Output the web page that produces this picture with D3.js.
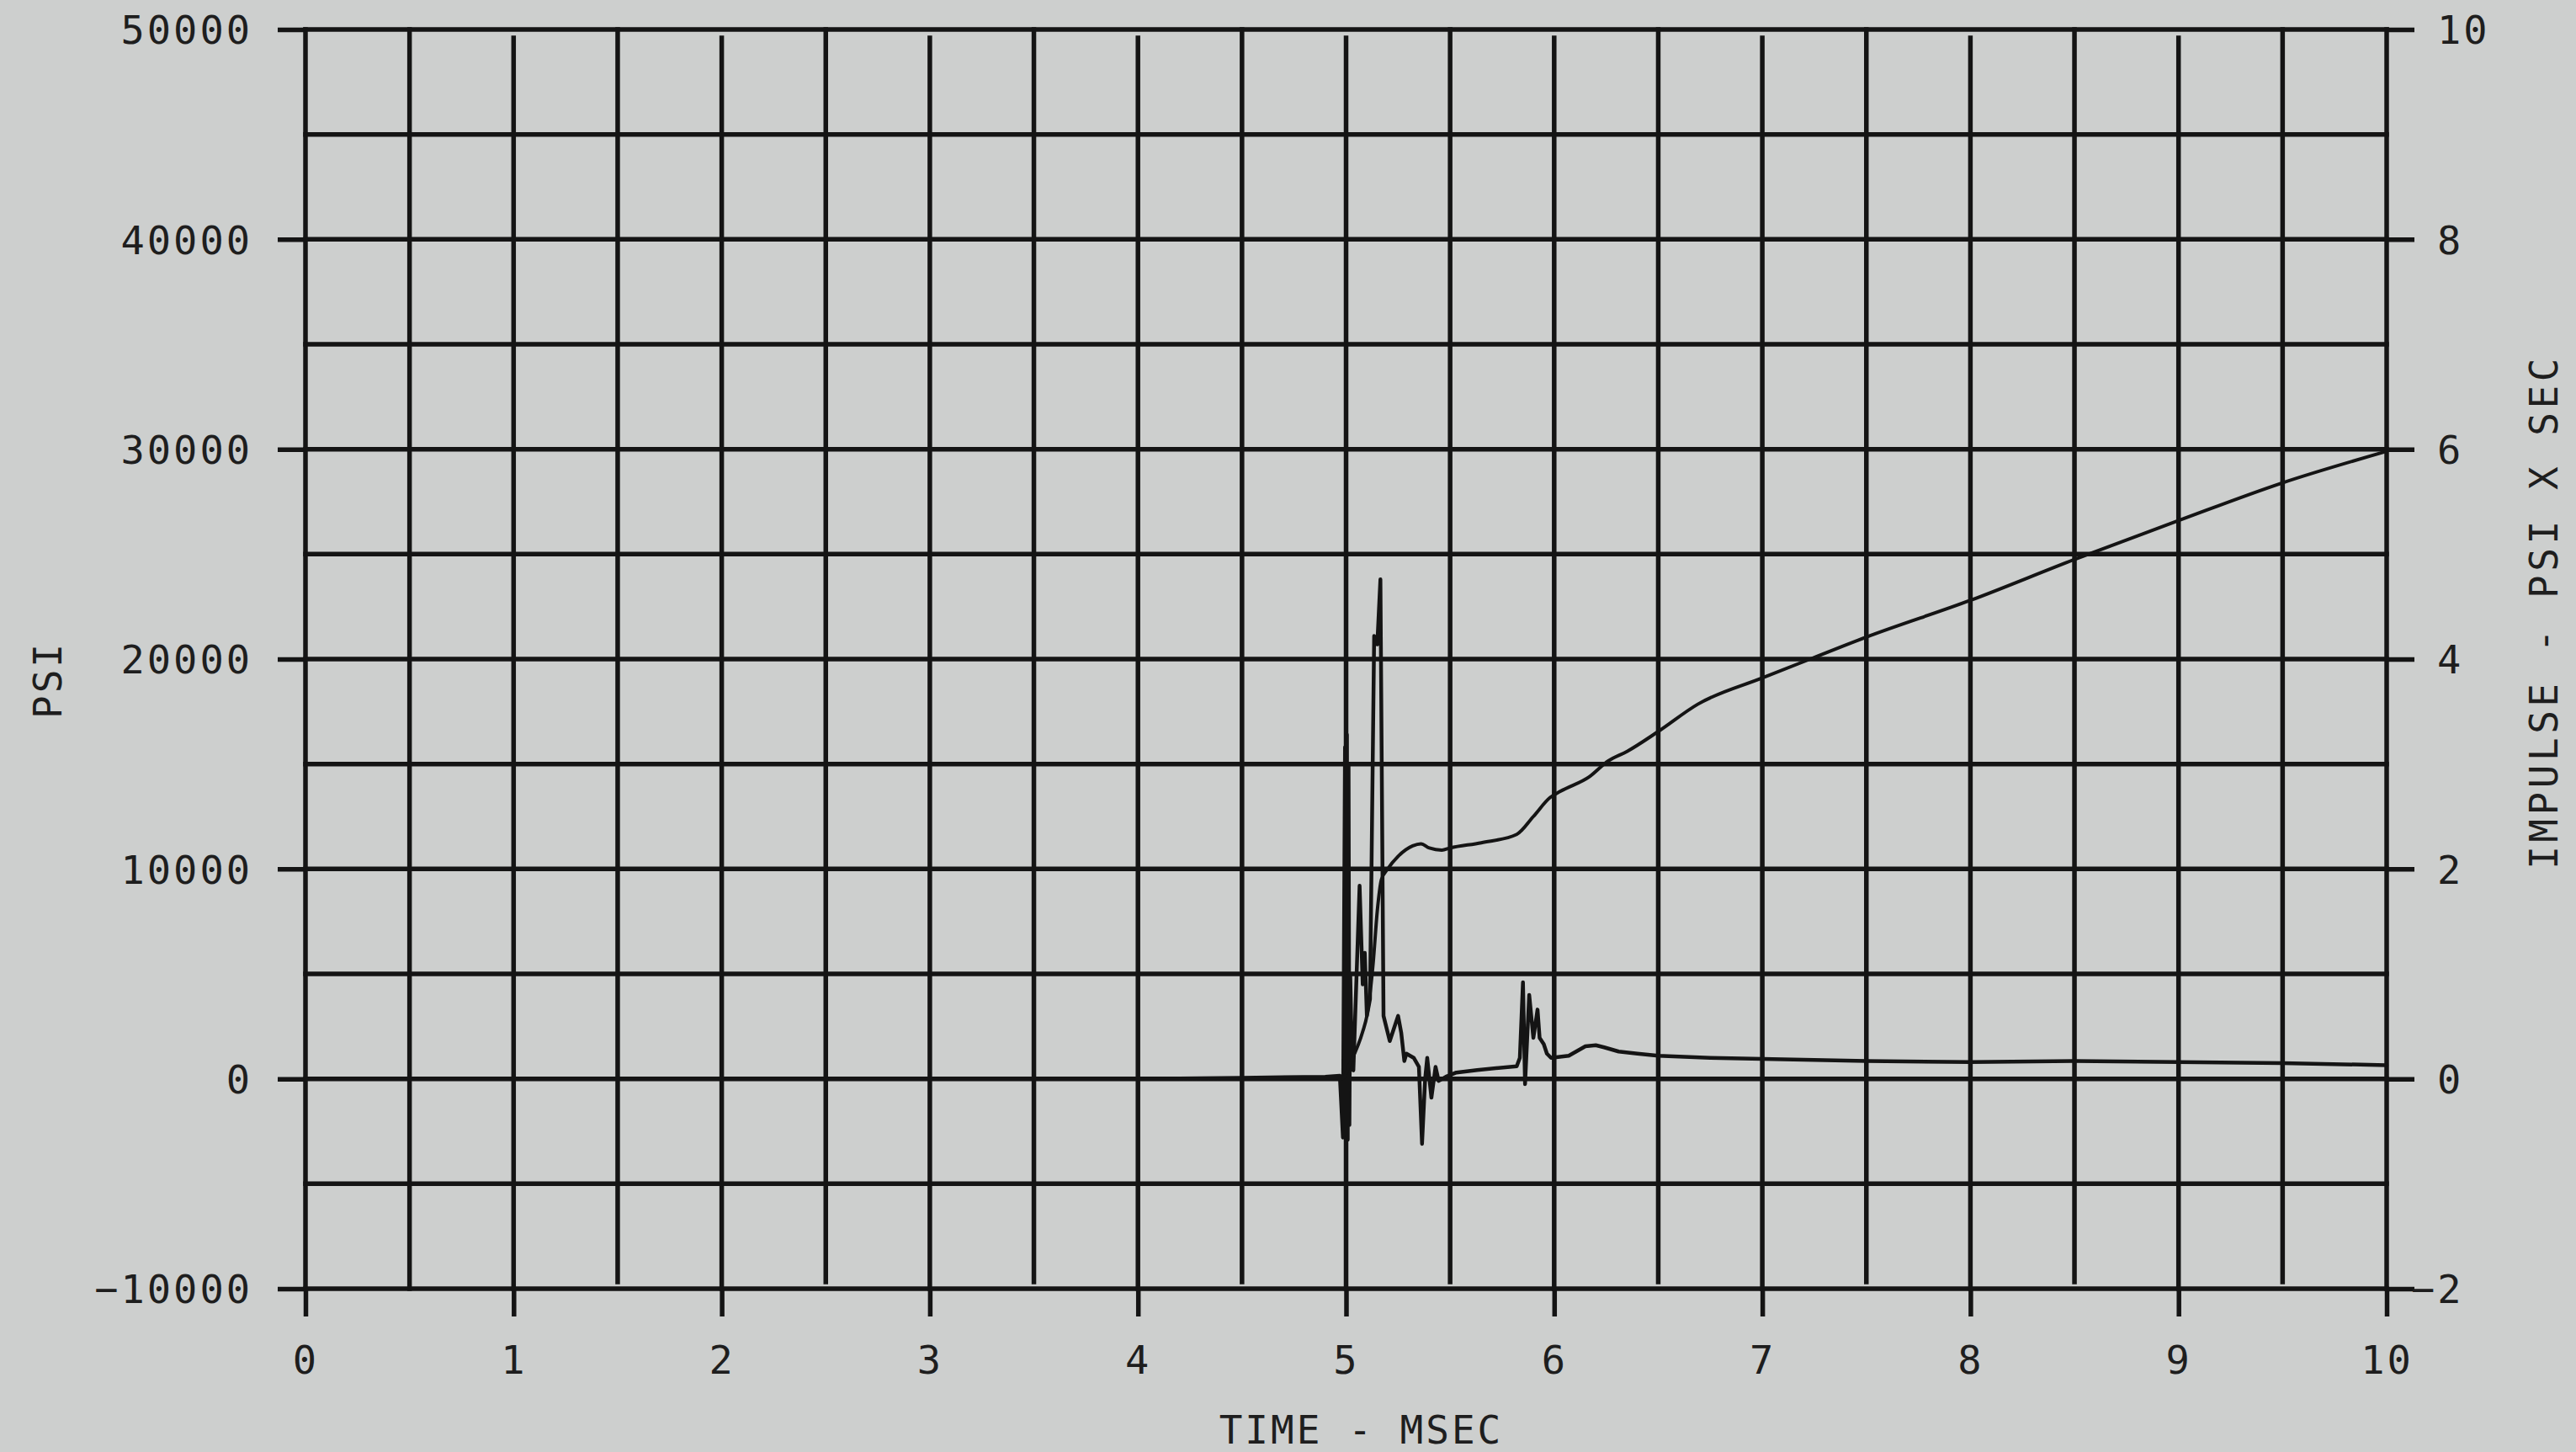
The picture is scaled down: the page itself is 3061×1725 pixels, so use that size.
<!DOCTYPE html>
<html>
<head>
<meta charset="utf-8">
<script src="https://cdn.jsdelivr.net/npm/d3@7"></script>
<style>
  html, body { margin: 0; padding: 0; background: #cdcfce; }
  svg { display: block; }
  text { font-family: "DejaVu Sans Mono", "Liberation Mono", monospace; fill: #1e1e1e; }
</style>
</head>
<body>
<script>
// ---------------- data ----------------
const xTicks = [0, 1, 2, 3, 4, 5, 6, 7, 8, 9, 10];
const psiTicks = [-10000, 0, 10000, 20000, 30000, 40000, 50000];
const impulseTicks = [-2, 0, 2, 4, 6, 8, 10];

// Pressure trace (PSI) vs time (msec)
const pressureTime = [0, 1, 2, 3, 4, 4.5, 4.9, 4.97, 4.985, 4.995, 5.0, 5.004, 5.008, 5.012, 5.016, 5.02, 5.025, 5.035,
  5.065, 5.08, 5.09, 5.1, 5.115,
  5.135, 5.15, 5.165, 5.18, 5.21, 5.25, 5.265, 5.28, 5.29, 5.325, 5.35, 5.365, 5.38, 5.39, 5.41, 5.43, 5.445,
  5.48, 5.53, 5.63, 5.82, 5.835, 5.85, 5.86, 5.88, 5.9, 5.92, 5.93, 5.95, 5.965, 5.985, 6.07, 6.15, 6.2, 6.24,
  6.31, 6.4, 6.5, 6.75, 7, 7.5, 8, 8.5, 9, 9.5, 10];
const pressureValues = [0, 0, 0, 0, 0, 50, 100, 150, -2800, 15800, -2600, 16400, -2900, 15000, -2200, 5000, 2500, 400,
  9200, 4500, 6000, 3000, 3800,
  21100, 20700, 23800, 3000, 1800, 3000, 2200, 850, 1200, 1000, 570, -3100, 0, 1000, -900, 570, -100,
  100, 300, 420, 600, 1000, 4600, -250, 4000, 1950, 3300, 1950, 1650, 1200, 1000, 1100, 1550, 1600, 1500,
  1300, 1200, 1100, 1000, 950, 850, 800, 850, 800, 750, 650];

// Impulse trace (PSI x SEC) vs time (msec)
const impulseTime = [0, 4.98, 5.02, 5.08, 5.1, 5.13, 5.15, 5.17, 5.2, 5.25, 5.32, 5.36, 5.4, 5.46, 5.5, 5.65,
  5.82, 5.9, 5.98, 6.03, 6.17, 6.26, 6.35, 6.5, 6.69, 7.0, 7.23, 7.5, 8.0, 8.5, 9.0, 9.5, 10];
const impulseValues = [0, 0, 0.15, 0.45, 0.6, 1.1, 1.6, 1.9, 2.0, 2.12, 2.22, 2.24, 2.2, 2.18, 2.2, 2.25,
  2.33, 2.5, 2.68, 2.74, 2.88, 3.03, 3.12, 3.31, 3.57, 3.82, 4.0, 4.21, 4.56, 4.95, 5.32, 5.68, 5.98];

// ---------------- layout ----------------
const W = 3061, H = 1725;
const ink = "#141414";
const svg = d3.select("body").append("svg").attr("width", W).attr("height", H);

const x = d3.scaleLinear().domain([0, 10]).range([363, 2836]);
const yP = d3.scaleLinear().domain([-10000, 50000]).range([1531, 35]);
const yI = d3.scaleLinear().domain([-2, 10]).range([1531, 35]);

const gridW = 5.5;
const grid = svg.append("g").attr("stroke", ink).attr("stroke-width", gridW).attr("stroke-linecap", "square");

// vertical grid lines every 0.5 msec
d3.range(0, 10.001, 0.5).forEach(v => {
  const isMajor = Math.abs(v - Math.round(v)) < 1e-9;
  const edge = v === 0 || v === 10;
  const y1 = (isMajor && !edge) ? yP(50000) + 10 : yP(50000);
  const y2 = (!isMajor && v !== 0.5) ? yP(-10000) - 8 : yP(-10000);
  grid.append("line").attr("x1", x(v)).attr("x2", x(v)).attr("y1", y1).attr("y2", y2);
});
// horizontal grid lines every 5000 psi
d3.range(-10000, 50001, 5000).forEach(v => {
  grid.append("line").attr("x1", x(0)).attr("x2", x(10)).attr("y1", yP(v)).attr("y2", yP(v));
});

// axes (ticks + labels)
function styleAxis(g) {
  g.select(".domain").remove();
  g.selectAll(".tick line").attr("stroke", ink).attr("stroke-width", gridW);
  g.selectAll(".tick text").attr("font-size", 47).attr("letter-spacing", 3).attr("fill", "#1e1e1e")
    .attr("font-family", "DejaVu Sans Mono, monospace");
}

const gLeft = svg.append("g").attr("transform", `translate(${x(0)},0)`)
  .call(d3.axisLeft(yP).tickValues(psiTicks).tickSize(33).tickFormat(d3.format("d")));
styleAxis(gLeft);
gLeft.selectAll(".tick text").attr("x", -63).attr("dy", "0.36em").attr("text-anchor", "end");

const gBottom = svg.append("g").attr("transform", `translate(0,${yP(-10000)})`)
  .call(d3.axisBottom(x).tickValues(xTicks).tickSize(33).tickFormat(d3.format("d")));
styleAxis(gBottom);
gBottom.selectAll(".tick text").attr("y", 84).attr("dy", "0.36em").attr("text-anchor", "middle");

const gRight = svg.append("g").attr("transform", `translate(${x(10)},0)`)
  .call(d3.axisRight(yI).tickValues(impulseTicks).tickSize(33).tickFormat(d3.format("d")));
styleAxis(gRight);
gRight.selectAll(".tick text").attr("x", d => d < 0 ? 60 - 31 : 60).attr("dy", "0.36em").attr("text-anchor", "start");

// axis titles
const titleFont = { size: 46, ls: 3 };
svg.append("text").text("PSI")
  .attr("transform", `translate(56,${(yP(50000) + yP(-10000)) / 2 + 25}) rotate(-90)`)
  .attr("text-anchor", "middle").attr("dy", "0.36em")
  .attr("font-size", titleFont.size).attr("letter-spacing", titleFont.ls);
svg.append("text").text("TIME - MSEC")
  .attr("x", (x(0) + x(10)) / 2 + 18).attr("y", 1698).attr("dy", "0.36em")
  .attr("text-anchor", "middle").attr("font-size", titleFont.size).attr("letter-spacing", titleFont.ls);
svg.append("text").text("IMPULSE - PSI X SEC")
  .attr("transform", `translate(3022,${727}) rotate(-90)`)
  .attr("text-anchor", "middle").attr("dy", "0.36em")
  .attr("font-size", titleFont.size).attr("letter-spacing", 4.5);

// curves
const pressureData = pressureTime.map((t, i) => [t, pressureValues[i]]);
const impulseData = impulseTime.map((t, i) => [t, impulseValues[i]]);

svg.append("path").datum(pressureData)
  .attr("fill", "none").attr("stroke", ink).attr("stroke-width", 4.5)
  .attr("stroke-linejoin", "round").attr("stroke-linecap", "round")
  .attr("d", d3.line().x(d => x(d[0])).y(d => yP(d[1])));

svg.append("path").datum(impulseData)
  .attr("fill", "none").attr("stroke", ink).attr("stroke-width", 4)
  .attr("stroke-linejoin", "round").attr("stroke-linecap", "round")
  .attr("d", d3.line().curve(d3.curveMonotoneX).x(d => x(d[0])).y(d => yI(d[1])));
</script>
</body>
</html>
